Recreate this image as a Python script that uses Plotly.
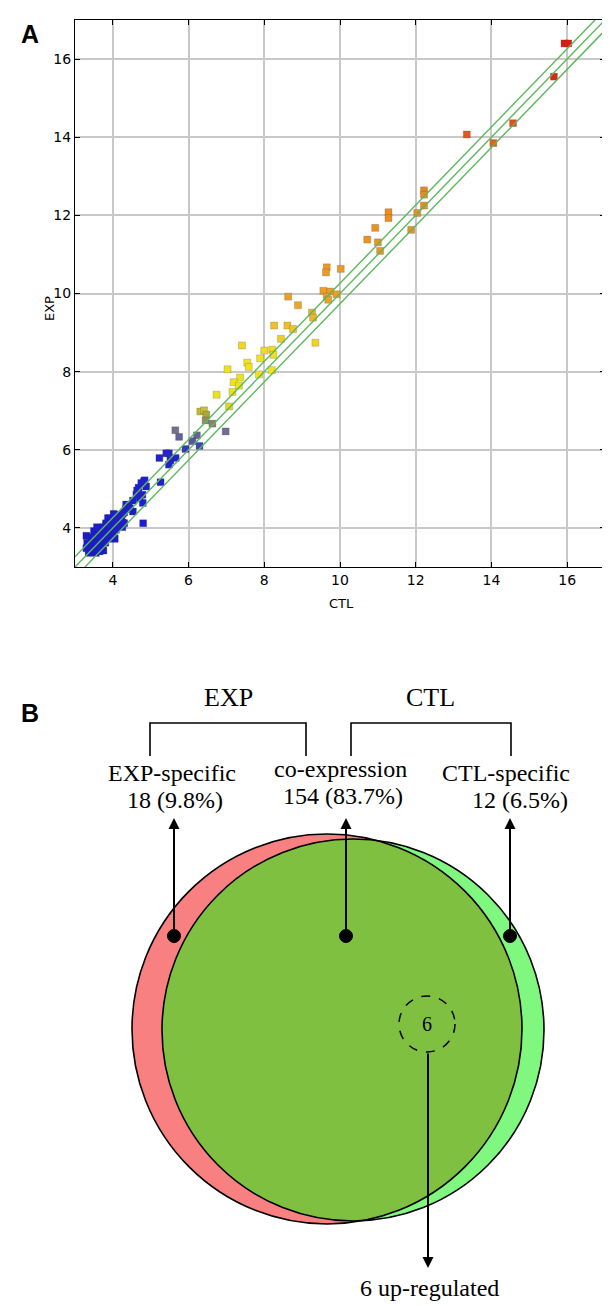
import numpy as np
import plotly.graph_objects as go

# page has an 8px body margin; work in reference pixel coords and convert
PAGE_W, PAGE_H = 610, 1306
OFF = 8
W, H = PAGE_W - OFF, PAGE_H - OFF

# ---------------- Panel A data (CTL, EXP) ----------------
pts_high = [(15.93, 16.40), (16.03, 16.40), (15.65, 15.55), (14.57, 14.36),
            (14.05, 13.85), (13.35, 14.07)]
pts_orange = [(12.22, 12.64), (12.22, 12.53), (12.22, 12.25), (12.04, 12.06), (11.88, 11.63),
              (11.28, 12.08), (11.28, 11.93), (10.93, 11.68), (10.72, 11.38), (11.00, 11.31),
              (11.06, 11.09), (9.65, 10.67), (9.63, 10.54), (10.02, 10.63), (9.56, 10.07),
              (9.74, 10.05), (9.91, 9.98), (9.65, 9.92), (9.69, 9.84), (8.63, 9.92),
              (8.89, 9.70), (9.26, 9.51), (9.29, 9.38), (9.35, 8.74), (8.26, 9.18),
              (8.61, 9.18), (8.76, 9.09), (8.44, 8.84)]
pts_yellow = [(7.41, 8.67), (8.00, 8.54), (8.21, 8.56), (8.24, 8.43), (7.89, 8.34),
              (7.55, 8.23), (7.59, 8.12), (7.03, 8.06), (7.86, 7.93), (8.20, 8.04),
              (7.36, 7.85), (7.19, 7.73), (7.33, 7.64), (7.16, 7.48), (6.74, 7.41),
              (7.07, 7.11)]
pts_olive_gray = [(6.31, 6.98), (6.41, 7.01), (6.47, 6.90), (6.45, 6.75), (6.63, 6.67),
                  (6.98, 6.47), (5.65, 6.50), (5.75, 6.33), (6.22, 6.37), (6.10, 6.22),
                  (5.92, 6.02), (6.29, 6.10)]
pts_blue = [(5.41, 5.91), (5.48, 5.91), (5.23, 5.79), (5.66, 5.79), (5.52, 5.73),
            (5.48, 5.62), (5.26, 5.17), (4.82, 5.19), (4.75, 5.15), (4.84, 5.22),
            (4.88, 5.06), (4.64, 4.96), (4.62, 4.85), (4.78, 4.85), (4.71, 4.76),
            (4.53, 4.70), (4.79, 4.64), (4.42, 4.55), (4.34, 4.48), (4.53, 4.42),
            (4.26, 4.36), (4.04, 4.34), (4.18, 4.25), (4.07, 4.18), (4.26, 4.14),
            (4.80, 4.12), (3.87, 4.25), (3.82, 4.08), (3.96, 3.97), (3.75, 3.94),
            (4.04, 3.74), (4.68, 5.03), (4.35, 4.60), (4.45, 4.50)]
pts_cluster = [(3.36, 3.36), (3.45, 3.38), (3.55, 3.36), (3.65, 3.40), (3.75, 3.42),
               (3.30, 3.48), (3.40, 3.50), (3.50, 3.52), (3.62, 3.50), (3.72, 3.55),
               (3.32, 3.62), (3.45, 3.65), (3.56, 3.62), (3.68, 3.66), (3.80, 3.62),
               (3.30, 3.80), (3.42, 3.76), (3.52, 3.80), (3.62, 3.78), (3.74, 3.76),
               (3.86, 3.72), (4.05, 3.72), (3.50, 3.92), (3.60, 3.95), (3.70, 3.90),
               (3.80, 3.88), (3.92, 3.86), (4.00, 3.80), (3.58, 4.02), (3.75, 4.02),
               (3.86, 4.00), (4.08, 3.95), (3.82, 4.12), (3.95, 4.10), (4.05, 4.08),
               (4.15, 4.05), (4.25, 4.02), (3.90, 4.25), (4.00, 4.22), (4.12, 4.20),
               (4.22, 4.16), (4.30, 4.12), (4.02, 4.36), (4.12, 4.32), (4.22, 4.30),
               (4.30, 4.40)]

all_pts = pts_high + pts_orange + pts_yellow + pts_olive_gray + pts_blue + pts_cluster
ctl = [p[0] for p in all_pts]
exp = [p[1] for p in all_pts]

fold_offsets = [0.263, 0.0, -0.263]   # log2 fold-change guide lines
axis_ticks = [4, 6, 8, 10, 12, 14, 16]

# ---------------- Panel B data ----------------
group_labels = ["EXP-specific", "co-expression", "CTL-specific"]
group_counts = [18, 154, 12]
group_pcts = [9.8, 83.7, 6.5]
up_regulated = 6

# ---------------- helpers (reference pixel -> paper) ----------------
def xp(px):
    return (px - OFF) / W

def yp(py):
    return 1 - (py - OFF) / H

fig = go.Figure()

colorscale = [
    [0.000, "#1818d0"], [0.207, "#2222d0"], [0.232, "#5a5aa0"], [0.254, "#76768a"],
    [0.275, "#a09a48"], [0.296, "#e8e020"], [0.379, "#f2e41a"], [0.429, "#f0c828"],
    [0.486, "#eca028"], [0.686, "#e88a20"], [0.779, "#e06020"], [0.893, "#e02814"],
    [1.000, "#e01010"],
]

fig.add_trace(go.Scatter(
    x=ctl, y=exp, mode="markers", xaxis="x", yaxis="y",
    marker=dict(symbol="square", size=7, color=exp, colorscale=colorscale,
                cmin=3, cmax=17, showscale=False,
                line=dict(width=0.6, color="rgba(60,60,60,0.35)")),
    hoverinfo="x+y",
))

for off in fold_offsets:
    fig.add_trace(go.Scatter(
        x=[3, 17], y=[3 + off, 17 + off], mode="lines", xaxis="x", yaxis="y",
        line=dict(color="#5cb85c", width=1.4), hoverinfo="skip",
    ))

# Venn axis in reference pixel units
VY0 = 640
fig.add_trace(go.Scatter(x=[300], y=[VY0 + 10], mode="markers", xaxis="x2", yaxis="y2",
                         marker=dict(size=1, color="rgba(0,0,0,0)"), hoverinfo="skip"))

tick_font = dict(family="DejaVu Sans", size=14, color="black")
title_font = dict(family="DejaVu Sans", size=13, color="black")
common = dict(range=[3, 17], tickvals=axis_ticks, showgrid=True, gridcolor="#c8c8c8",
              gridwidth=1.5, ticks="inside", ticklen=5, tickcolor="black",
              showline=True, linecolor="black", linewidth=1, mirror="ticks",
              zeroline=False, tickfont=tick_font, fixedrange=True)

fig.update_layout(
    width=W, height=H, margin=dict(l=0, r=0, t=0, b=0),
    paper_bgcolor="white", plot_bgcolor="white", showlegend=False,
    xaxis=dict(domain=[xp(75), min(1, xp(605))], anchor="y", **common),
    yaxis=dict(domain=[yp(567), yp(20)], anchor="x", **common),
    xaxis2=dict(domain=[0, 1], range=[OFF, PAGE_W], anchor="y2", visible=False, fixedrange=True),
    yaxis2=dict(domain=[0, yp(VY0)], range=[PAGE_H, VY0], anchor="x2", visible=False,
                fixedrange=True),
)

ann = []
ann.append(dict(text="<b>A</b>", x=xp(19), y=yp(18), xref="paper", yref="paper",
                showarrow=False, font=dict(family="Liberation Sans", size=25, color="black")))
ann.append(dict(text="<b>B</b>", x=xp(19), y=yp(713), xref="paper", yref="paper",
                showarrow=False, font=dict(family="Liberation Sans", size=25, color="black")))
ann.append(dict(text="CTL", x=xp(341), y=yp(604), xref="paper", yref="paper",
                showarrow=False, font=title_font))
ann.append(dict(text="EXP", x=xp(40), y=yp(294), xref="paper", yref="paper",
                showarrow=False, textangle=-90, font=title_font))

# ---------------- Venn geometry ----------------
c1 = np.array([327.0, 1029.0]); r1 = 195.0   # EXP (red)
c2 = np.array([353.0, 1030.0]); r2 = 191.0   # CTL (green)

shapes = []
def circle(c, r, fill, line_color, width=1.5, dash="solid"):
    return dict(type="circle", xref="x2", yref="y2",
                x0=c[0] - r, x1=c[0] + r, y0=c[1] - r, y1=c[1] + r,
                fillcolor=fill, line=dict(color=line_color, width=width, dash=dash))

shapes.append(circle(c1, r1, "#f88080", "rgba(0,0,0,0)", 0))
shapes.append(circle(c2, r2, "#80f880", "rgba(0,0,0,0)", 0))

# lens (intersection)
d = np.linalg.norm(c2 - c1)
u = (c2 - c1) / d
a = (r1**2 - r2**2 + d**2) / (2 * d)
h = np.sqrt(r1**2 - a**2)
pm = c1 + a * u
perp = np.array([-u[1], u[0]])
I1 = pm + h * perp
I2 = pm - h * perp

def arc(c, r, pa, pb, toward):
    ta = np.arctan2(pa[1] - c[1], pa[0] - c[0])
    tb = np.arctan2(pb[1] - c[1], pb[0] - c[0])
    phi = np.arctan2(toward[1] - c[1], toward[0] - c[0])
    delta = (tb - ta) % (2 * np.pi)
    if (phi - ta) % (2 * np.pi) > delta:
        delta = delta - 2 * np.pi
    t = ta + np.linspace(0, 1, 120) * delta
    return np.column_stack([c[0] + r * np.cos(t), c[1] + r * np.sin(t)])

arc1 = arc(c1, r1, I1, I2, c2)
arc2 = arc(c2, r2, I2, I1, c1)
poly = np.vstack([arc1, arc2])
path = "M " + " L ".join(f"{px:.2f},{py:.2f}" for px, py in poly) + " Z"
shapes.append(dict(type="path", xref="x2", yref="y2", path=path,
                   fillcolor="#80c040", line=dict(width=0)))

shapes.append(circle(c1, r1, "rgba(0,0,0,0)", "black", 1.6))
shapes.append(circle(c2, r2, "rgba(0,0,0,0)", "black", 1.6))

# dashed sub-circle
sub_c = (427.0, 1024.0); sub_r = 28.0
shapes.append(circle(sub_c, sub_r, "rgba(0,0,0,0)", "black", 1.5, "dash"))

# brackets
for (xa, xb) in [(150, 306), (351, 511)]:
    shapes.append(dict(type="path", xref="x2", yref="y2",
                       path=f"M {xa},756 V 723 H {xb} V 756",
                       line=dict(color="black", width=1.6)))

# dots
dot_x = [174, 346, 510]
dot_y = 936
for dx in dot_x:
    shapes.append(circle((dx, dot_y), 6.5, "black", "black", 1))

serif = dict(family="Liberation Serif", size=24, color="black")

for dx in dot_x:
    ann.append(dict(x=dx, y=818, ax=dx, ay=dot_y, xref="x2", yref="y2",
                    axref="x2", ayref="y2", text="", showarrow=True,
                    arrowhead=2, arrowsize=1.1, arrowwidth=2, arrowcolor="black",
                    standoff=0, startstandoff=0))
ann.append(dict(x=sub_c[0] + 1, y=1268, ax=sub_c[0] + 1, ay=sub_c[1] + sub_r,
                xref="x2", yref="y2", axref="x2", ayref="y2", text="", showarrow=True,
                arrowhead=2, arrowsize=1.1, arrowwidth=2, arrowcolor="black",
                standoff=0, startstandoff=0))

ann.append(dict(text="EXP", x=228, y=697, xref="x2", yref="y2", showarrow=False,
                font=dict(family="Liberation Serif", size=26, color="black")))
ann.append(dict(text="CTL", x=430, y=697, xref="x2", yref="y2", showarrow=False,
                font=dict(family="Liberation Serif", size=26, color="black")))

label_pos = [(172, 773), (340, 769), (506, 773)]
count_pos = [(175, 800), (343, 796), (520, 800)]
for lab, cnt, pct, (lx, ly), (cx, cy) in zip(group_labels, group_counts, group_pcts,
                                              label_pos, count_pos):
    ann.append(dict(text=lab, x=lx, y=ly, xref="x2", yref="y2", showarrow=False, font=serif))
    ann.append(dict(text=f"{cnt} ({pct}%)", x=cx, y=cy, xref="x2", yref="y2",
                    showarrow=False, font=serif))

ann.append(dict(text=str(up_regulated), x=sub_c[0], y=sub_c[1], xref="x2", yref="y2",
                showarrow=False, font=dict(family="Liberation Serif", size=20, color="black")))
ann.append(dict(text=f"{up_regulated} up-regulated", x=429, y=1288, xref="x2", yref="y2",
                showarrow=False, font=serif))

fig.update_layout(shapes=shapes, annotations=ann)
fig.write_html("out.html")
